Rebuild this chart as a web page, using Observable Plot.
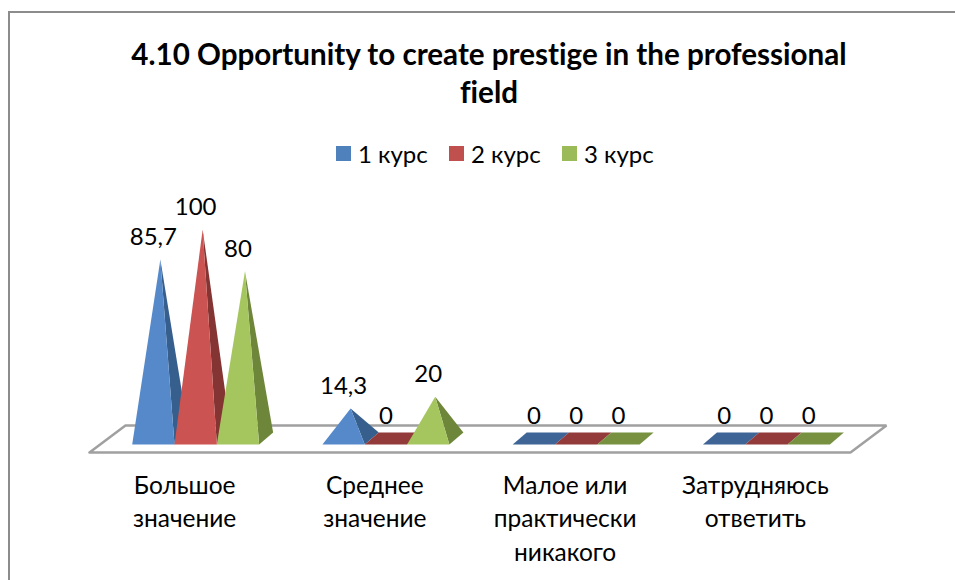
<!DOCTYPE html>
<html>
<head>
<meta charset="utf-8">
<script src="https://cdn.jsdelivr.net/npm/d3@7"></script>
<script src="https://cdn.jsdelivr.net/npm/@observablehq/plot@0.6"></script>
<style>
  html, body { margin: 0; padding: 0; background: #fff; }
  #page { position: relative; width: 955px; height: 580px; overflow: hidden; font-family: Lato, "Open Sans", sans-serif; color: #000; font-variant-ligatures: none; }
  #frameTop { position: absolute; left: 8px; top: 11px; right: 0; height: 2px; background: #8c8c8c; }
  #frameLeft { position: absolute; left: 8px; top: 11px; bottom: 0; width: 2px; background: #8c8c8c; }
  #title { position: absolute; left: 0; top: 35px; width: 978px; text-align: center; font-weight: 700; font-size: 29.6px; line-height: 38px; }
  #legend { position: absolute; top: 139px; left: 336px; height: 30px; font-size: 24px; line-height: 30px; }
  .item { position: absolute; white-space: nowrap; top: 0; }
  .swatch { position: absolute; left: 0; top: 7px; width: 15px; height: 15px; }
  .item span { position: absolute; left: 22px; top: 0; }
  #chart { position: absolute; left: 0; top: 190px; }
  #chart svg { display: block; }
</style>
</head>
<body>
<div id="page">
  <div id="frameTop"></div>
  <div id="frameLeft"></div>
  <div id="title">4.10 Opportunity to create prestige in the professional<br>field</div>
  <div id="legend"></div>
  <div id="chart"></div>
</div>
<script>
const categories = ["Большое\nзначение", "Среднее\nзначение", "Малое или\nпрактически\nникакого", "Затрудняюсь\nответить"];
const series = ["1 курс", "2 курс", "3 курс"];
const course1 = [85.7, 14.3, 0, 0];
const course2 = [100, 0, 0, 0];
const course3 = [80, 20, 0, 0];
const valueLabels1 = ["85,7", "14,3", "0", "0"];
const valueLabels2 = ["100", "0", "0", "0"];
const valueLabels3 = ["80", "20", "0", "0"];
const legendColors = ["#4f81bd", "#c0504d", "#9bbb59"];
const frontColors = ["#5589ca", "#cb5351", "#a5c65f"];
const sideColors = ["#375f8d", "#843432", "#6e8639"];
const flatColors = ["#3e6596", "#933b3a", "#779140"];

const allValues = [course1, course2, course3];
const allLabels = [valueLabels1, valueLabels2, valueLabels3];

// Geometry in data units (x: categories, y: value units)
const barW = 0.2224, shift = 0.058, depthX = 0.0736, depthY = 5.74, frontY = -2.87;
const floorDX = 0.189, floorFront = -6.7, floorBack = 6.2;

const shapes = [];
const labels = [];
let id = 0;
function add(points, color) {
  id++;
  for (const [x, y] of points) shapes.push({x, y, id, color});
}
categories.forEach((c, i) => {
  series.forEach((s, k) => {
    const v = allValues[k][i];
    const x0 = i + 0.5 - 1.5 * barW + shift + k * barW;
    const x1 = x0 + barW;
    const apexX = (x0 + x1 + depthX) / 2;
    if (v === 0) {
      add([[x0, frontY], [x1, frontY], [x1 + depthX, frontY + depthY], [x0 + depthX, frontY + depthY]], flatColors[k]);
    } else {
      add([[x1, frontY], [x1 + depthX, frontY + depthY], [apexX, v]], sideColors[k]);
      add([[x0, frontY], [x1, frontY], [apexX, v]], frontColors[k]);
    }
    labels.push({x: (x0 + x1) / 2, y: v, text: allLabels[k][i]});
  });
});
const floor = [[0, floorFront], [4, floorFront], [4 + floorDX, floorBack], [floorDX, floorBack], [0, floorFront]]
  .map(([x, y]) => ({x, y}));

const plot = Plot.plot({
  width: 955,
  height: 390,
  margin: 0,
  x: {domain: [0, 4], range: [89, 850], axis: null},
  y: {domain: [0, 100], range: [248, 39], axis: null},
  color: {type: "identity"},
  marks: [
    Plot.line(floor, {x: "x", y: "y", stroke: "#a0a0a0", strokeWidth: 2.5, fill: "#fff", strokeLinejoin: "miter"}),
    Plot.line(shapes, {x: "x", y: "y", z: "id", fill: "color", stroke: "none"}),
    Plot.text(labels, {x: "x", y: "y", text: "text", dy: -22, fontSize: 24, fill: "#000", lineAnchor: "middle"}),
    Plot.text(categories, {x: (d, i) => i + 0.5, y: -15, text: d => d, fontSize: 24.5, fill: "#000", lineAnchor: "top", lineHeight: 1.37})
  ]
});
plot.setAttribute("font-family", "Lato, 'Open Sans', sans-serif");
plot.style.fontFamily = "Lato, 'Open Sans', sans-serif";
plot.style.background = "transparent";
document.getElementById("chart").append(plot);

const legend = document.getElementById("legend");
const offsets = [0, 113, 226];
series.forEach((s, k) => {
  const item = document.createElement("div");
  item.className = "item";
  item.style.left = offsets[k] + "px";
  item.innerHTML = `<div class="swatch" style="background:${legendColors[k]}"></div><span>${s}</span>`;
  legend.append(item);
});
</script>
</body>
</html>
